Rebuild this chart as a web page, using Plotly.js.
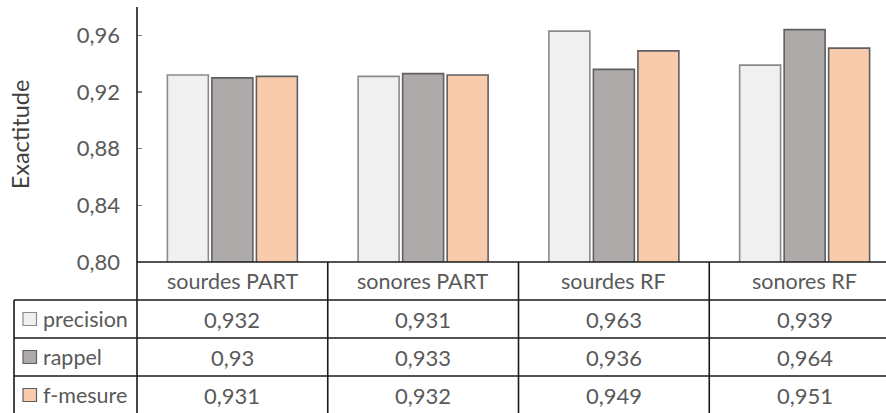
<!DOCTYPE html>
<html>
<head>
<meta charset="utf-8">
<script src="https://cdn.plot.ly/plotly-3.0.1.min.js"></script>
<style>
  html, body { margin: 0; padding: 0; overflow: hidden; background: #ffffff; }
  #chart { width: 901px; height: 413px; }
</style>
</head>
<body>
<div id="chart"></div>
<script>
// Accuracy of the PART and RF classifiers on voiceless / voiced consonants
const categories = ['sourdes PART', 'sonores PART', 'sourdes RF', 'sonores RF'];
const precision = [0.932, 0.931, 0.963, 0.939];
const rappel = [0.93, 0.933, 0.936, 0.964];
const fmesure = [0.931, 0.932, 0.949, 0.951];
const seriesNames = ['precision', 'rappel', 'f-mesure'];
const yTickValues = [0.80, 0.84, 0.88, 0.92, 0.96];
const yTickLabels = ['0,80', '0,84', '0,88', '0,92', '0,96'];
const yTitle = 'Exactitude';

const seriesValues = [precision, rappel, fmesure];
const fills = ['#F0F0F0', '#AEAAAA', '#F8CBAD'];
const edges = ['#8A8A8A', '#5F5F5F', '#5F5F5F'];

const FONT = 'Lato, "Open Sans", sans-serif';
const TEXT = '#595959';
const GRID = '#1a1a1a';

// plot-area geometry in pixels (the data table sits below it)
const W = 901, HGT = 413;
const M = { l: 137, r: 1, t: 7, b: 151 };
const PW = W - M.l - M.r, PH = HGT - M.t - M.b;
const px = x => (x - M.l) / PW;
const py = y => (M.t + PH - y) / PH;

const rowEdges = [262, 300, 338, 376, 414];
const rowMid = i => (rowEdges[i] + rowEdges[i + 1]) / 2;

const traces = seriesNames.map((name, i) => ({
  type: 'bar',
  name: name,
  x: categories,
  y: seriesValues[i],
  marker: { color: fills[i], line: { color: edges[i], width: 1.6 } },
  hoverinfo: 'skip'
}));

const shapes = [];
const line = (x0, y0, x1, y1, xref, color, w) => shapes.push({
  type: 'line', xref: xref, yref: 'paper', x0: x0, x1: x1, y0: y0, y1: y1,
  line: { color: color || GRID, width: w || 1.6 }, layer: 'above'
});

// y axis line running down through the table
line(0, py(rowEdges[4] + 2), 0, 1, 'paper');
// x axis line / top of table
line(0, py(rowEdges[0]), 1, py(rowEdges[0]), 'paper');
// horizontal table rules
for (let r = 1; r < 4; r++) line(px(14), py(rowEdges[r]), 1, py(rowEdges[r]), 'paper');
// left border of the series-name column
line(px(14), py(rowEdges[1]), px(14), py(rowEdges[4] + 2), 'paper');
// column separators between categories
for (let c = 0; c < categories.length - 1; c++) {
  line(c + 0.5, py(rowEdges[0]), c + 0.5, py(rowEdges[4] + 2), 'x');
}

const annotations = [];
// category header row
categories.forEach(cat => annotations.push({
  xref: 'x', yref: 'paper', x: cat, y: py(rowMid(0)), text: cat,
  showarrow: false, xanchor: 'center', yanchor: 'middle',
  font: { family: FONT, size: 21.5, color: TEXT }
}));
// value rows with their legend keys
seriesNames.forEach((name, i) => {
  const ym = rowMid(i + 1);
  shapes.push({
    type: 'rect', xref: 'paper', yref: 'paper',
    x0: px(23), x1: px(36.5), y0: py(ym - 6.5), y1: py(ym + 6.5),
    fillcolor: fills[i], line: { color: edges[i], width: 1.2 }, layer: 'above'
  });
  annotations.push({
    xref: 'paper', yref: 'paper', x: px(41), y: py(ym), text: name,
    showarrow: false, xanchor: 'left', yanchor: 'middle',
    font: { family: FONT, size: 21.5, color: TEXT }
  });
  seriesValues[i].forEach((v, c) => annotations.push({
    xref: 'x', yref: 'paper', x: categories[c], y: py(ym),
    text: String(v).replace('.', ','),
    showarrow: false, xanchor: 'center', yanchor: 'middle',
    font: { family: FONT, size: 22, color: TEXT }
  }));
});

const layout = {
  width: W, height: HGT,
  margin: M,
  paper_bgcolor: '#ffffff', plot_bgcolor: '#ffffff',
  showlegend: false,
  barmode: 'group', bargap: 0.3, bargroupgap: 0.08,
  font: { family: FONT, color: TEXT },
  xaxis: {
    type: 'category', showticklabels: false, ticks: '',
    showline: false, showgrid: false, zeroline: false,
    range: [-0.5, categories.length - 0.5], fixedrange: true
  },
  yaxis: {
    range: [0.80, 0.98], tickvals: yTickValues, ticktext: yTickLabels,
    ticks: 'inside', ticklen: 5, tickwidth: 1.2, tickcolor: '#7f7f7f',
    ticklabelstandoff: 16,
    tickfont: { family: FONT, size: 22, color: TEXT },
    showline: false, showgrid: false, zeroline: false,
    automargin: false, fixedrange: true,
    title: { text: yTitle, standoff: 40, font: { family: FONT, size: 23.5, color: '#404040' } }
  },
  shapes: shapes,
  annotations: annotations
};

Plotly.newPlot('chart', traces, layout, { displayModeBar: false, staticPlot: true });
</script>
</body>
</html>
